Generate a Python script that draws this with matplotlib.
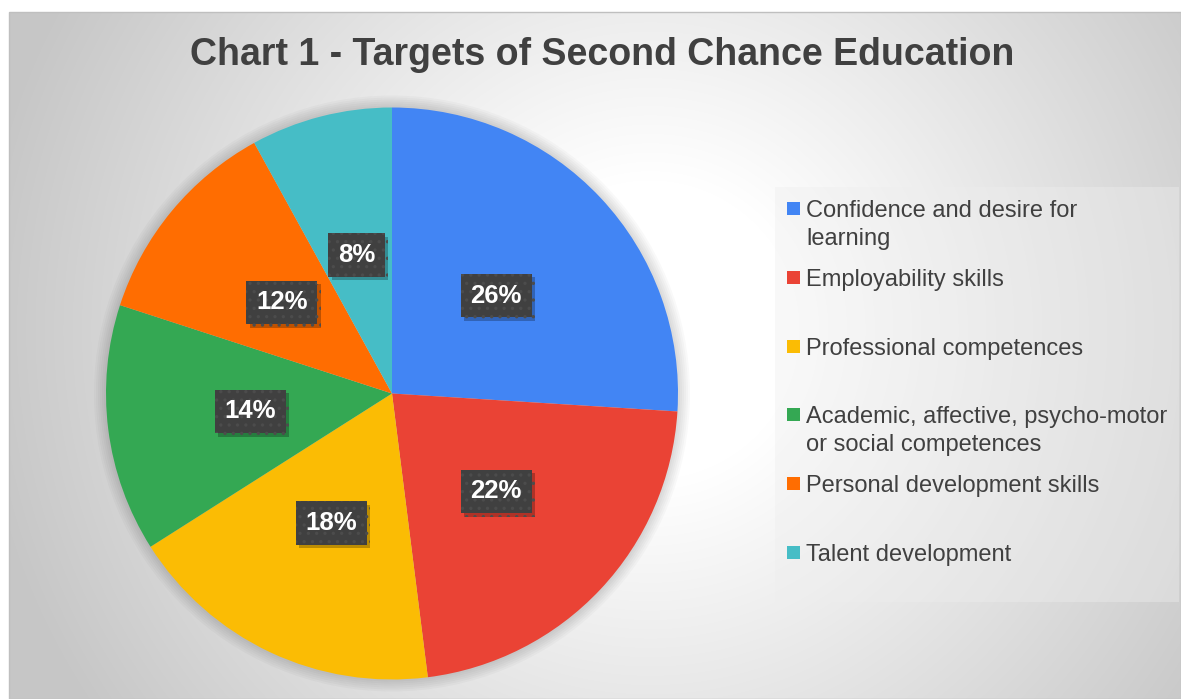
import matplotlib

matplotlib.use("Agg")
import numpy as np
from matplotlib import pyplot as plt
from matplotlib import patheffects
from matplotlib.patches import Rectangle

categories = [
    "Confidence and desire for\nlearning",
    "Employability skills",
    "Professional competences",
    "Academic, affective, psycho-motor\nor social competences",
    "Personal development skills",
    "Talent development",
]
shares = [26, 22, 18, 14, 12, 8]
colors = ["#4285F4", "#EA4335", "#FBBC04", "#34A853", "#FF6D01", "#46BDC6"]
title = "Chart 1 - Targets of Second Chance Education"

W, H = 1181, 699
TEXT_COLOR = "#404040"
plt.rcParams["font.family"] = ["Liberation Sans", "DejaVu Sans"]
plt.rcParams["hatch.linewidth"] = 1.2


def fx(px):
    return px / W


def fy(py):
    return 1 - py / H


fig = plt.figure(figsize=(W / 100, H / 100), dpi=100, facecolor="white")

# radial gradient background of the chart area
bg_ax = fig.add_axes([fx(9), 0, 1 - fx(9), 1 - 12 / H])
xs = np.arange(9, W)
ys = np.arange(12, H)
gx, gy = np.meshgrid(xs, ys)
dist = np.hypot(gx - 650, gy - 330)
frac = np.clip((dist - 150) / 530, 0, 1)
level = 255 - frac * 57
img = np.dstack([level, level, level]) / 255
bg_ax.imshow(img, aspect="auto", interpolation="bilinear")
bg_ax.set_axis_off()
fig.add_artist(Rectangle((fx(9), 0), 1 - fx(9), 1 - 12 / H, transform=fig.transFigure,
                         fill=False, edgecolor="#bfbfbf", linewidth=1))

# pie
cx, cy, r = 392, 393.5, 286
ax = fig.add_axes([fx(cx - r), fy(cy + r), 2 * r / W, 2 * r / H])
for k in range(6):
    ax.add_patch(plt.Circle((0, 0), 1 + 0.007 * (k + 1), color="#000000",
                            alpha=0.022, linewidth=0, clip_on=False))
wedges, _, autotexts = ax.pie(
    shares,
    colors=colors,
    startangle=90,
    counterclock=False,
    autopct="%1.0f%%",
    pctdistance=0.5,
    radius=1,
    wedgeprops={"linewidth": 0},
)
ax.set_xlim(-1, 1)
ax.set_ylim(-1, 1)
ax.set_aspect("equal")
ax.set_axis_off()

for txt in autotexts:
    txt.set_color("white")
    txt.set_fontsize(18.5)
    txt.set_fontweight("bold")
    txt.set_bbox({"boxstyle": "square,pad=0.38", "facecolor": "#404040",
                  "edgecolor": "#4c4c4c", "linewidth": 0, "hatch": ".."})
    txt.get_bbox_patch().set_path_effects([
        patheffects.SimplePatchShadow(offset=(2.5, -2.5), shadow_rgbFace="black", alpha=0.25),
        patheffects.Normal(),
    ])

# title
fig.text(fx(602), fy(55), title, ha="center", va="center", fontsize=27,
         fontweight="bold", color=TEXT_COLOR)

# legend panel
fig.add_artist(Rectangle((fx(775), fy(602)), fx(1179 - 775), (602 - 187) / H,
                         transform=fig.transFigure, facecolor="#eeeeee",
                         alpha=0.4, linewidth=0))
for i, (label, color) in enumerate(zip(categories, colors)):
    yc = 208.5 + i * 68.8
    fig.add_artist(Rectangle((fx(787), fy(yc + 6.5)), fx(13), 13 / H,
                             transform=fig.transFigure, facecolor=color, linewidth=0))
    for j, line in enumerate(label.split("\n")):
        fig.text(fx(806), fy(yc + 28 * j + 8.5), line, ha="left", va="baseline",
                 fontsize=17, color=TEXT_COLOR)

fig.savefig("out.png", dpi=100, facecolor="white")
plt.close(fig)
